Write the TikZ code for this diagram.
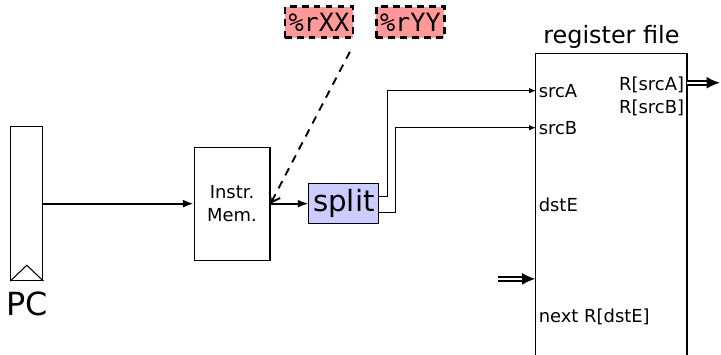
\documentclass[tikz,border=0pt]{standalone}
\usepackage{fontspec}
\setmainfont{DejaVu Sans}
\setmonofont{DejaVu Sans Mono}
\usetikzlibrary{positioning,arrows.meta}
\definecolor{regtag}{HTML}{FF9999}
\definecolor{splitfill}{HTML}{CCCCFF}

\begin{document}
\begin{tikzpicture}[font=\fontsize{13.5}{17}\selectfont,
  box/.style={draw,line width=0.8pt,inner sep=0pt},
  wire/.style={line width=0.7pt,-{Latex[length=5pt,width=4pt]}},
  bigwire/.style={line width=1.3pt,-{Latex[length=8pt,width=6pt]}},
  bus/.style={line width=1.3pt,double,double distance=1.6pt,-{Latex[length=10pt,width=9pt]}},
  tagbox/.style={draw,line width=2pt,dash pattern=on 5pt off 4pt,fill=regtag,inner sep=1pt,
    minimum width=1.8cm,minimum height=0.82cm,font=\fontsize{19}{22}\selectfont\ttfamily}]
  \def\W{19.08}
  \def\H{9.39}
  \def\rfx{14.18}
  \clip (0,0) rectangle (\W,\H);
  \node[box,minimum width=0.85cm,minimum height=4.07cm] (pc) at (0.71,4.0) {};
  \draw[line width=0.8pt] (pc.south west) -- ([yshift=0.42cm]pc.south) -- (pc.south east);
  \node[font=\fontsize{24}{28}\selectfont] (pclabel) at (0.71,1.35) {PC};
  \node[box,minimum width=2.01cm,minimum height=2.99cm,align=center] (imem) at (6.14,4.0) {Instr.\\Mem.};
  \node[box,fill=splitfill,minimum width=1.85cm,minimum height=1.06cm,
        font=\fontsize{22}{26}\selectfont] (split) at (9.10,4.0) {split};
  \draw[bigwire] (pc.east) -- (imem.west);
  \draw[bigwire] (imem.east) -- (split.west);
  \node[tagbox] (rxx) at (8.44,8.80) {\%rXX};
  \node[tagbox] (ryy) at (10.86,8.80) {\%rYY};
  \coordinate (tagfoot) at (9.26,8.02);
  \draw[line width=1.4pt,dash pattern=on 6pt off 5pt,-{Straight Barb[length=6pt,width=9pt]}] (tagfoot) -- (imem.east);
  \node[box,minimum width=4.0cm,minimum height=8.6cm,anchor=north] (rf) at (16.18,7.99) {};
  \node[font=\fontsize{18}{22}\selectfont,above=3pt of rf.north,inner sep=0pt] (rflabel) {register file};
  \node[anchor=west,inner sep=2pt] (srcA) at (\rfx,6.99) {srcA};
  \node[anchor=west,inner sep=2pt] (srcB) at (\rfx,6.01) {srcB};
  \node[anchor=west,inner sep=2pt] (dstE) at (\rfx,3.97) {dstE};
  \node[anchor=west,inner sep=2pt] (nextR) at (\rfx,1.01) {next R[dstE]};
  \node[anchor=east,inner sep=2pt] (rA) at (18.18,7.14) {R[srcA]};
  \node[anchor=east,inner sep=2pt] (rB) at (18.18,6.54) {R[srcB]};
  \draw[wire] ([yshift=0.18cm]split.east) -- ++(0.21,0) |- (srcA.west);
  \draw[wire] ([yshift=-0.22cm]split.east) -- ++(0.42,0) |- (srcB.west);
  \coordinate (busout) at (19.05,7.20);
  \draw[bus] (rA.east |- busout) -- (busout);
  \coordinate (busin) at (13.18,2.01);
  \draw[bus] (busin) -- (busin -| rf.west);
\end{tikzpicture}
\end{document}
